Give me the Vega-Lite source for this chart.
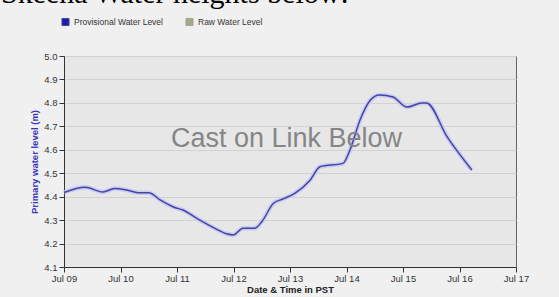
{
  "$schema": "https://vega.github.io/schema/vega-lite/v6.json",
  "width": 452,
  "height": 211,
  "autosize": "none",
  "padding": {"left": 64, "top": 56, "right": 43, "bottom": 30},
  "background": "#f0f0f0",
  "title": {
    "text": "Skeena Water heights below:",
    "font": "Liberation Serif",
    "fontSize": 30,
    "fontWeight": "normal",
    "color": "#000000",
    "anchor": "start",
    "frame": "group",
    "baseline": "alphabetic",
    "dx": -63,
    "dy": 21,
    "offset": 5
  },
  "config": {
    "view": {"fill": "#e7e7e7", "stroke": "#666666", "strokeWidth": 1},
    "font": "Liberation Sans",
    "axis": {
      "labelFont": "Liberation Sans",
      "titleFont": "Liberation Sans",
      "labelColor": "#333333",
      "domainColor": "#333333",
      "tickColor": "#333333",
      "tickSize": 5,
      "labelFontSize": 9.5,
      "titleFontSize": 9.5,
      "titleFontWeight": "bold"
    }
  },
  "datasets": {
    "level": [
      {"time": "2012-07-09T00:00:00Z", "level": 4.418, "series": "Provisional Water Level"},
      {"time": "2012-07-09T09:00:00Z", "level": 4.44, "series": "Provisional Water Level"},
      {"time": "2012-07-09T16:30:00Z", "level": 4.42, "series": "Provisional Water Level"},
      {"time": "2012-07-09T21:30:00Z", "level": 4.435, "series": "Provisional Water Level"},
      {"time": "2012-07-10T02:45:00Z", "level": 4.428, "series": "Provisional Water Level"},
      {"time": "2012-07-10T07:30:00Z", "level": 4.417, "series": "Provisional Water Level"},
      {"time": "2012-07-10T12:00:00Z", "level": 4.417, "series": "Provisional Water Level"},
      {"time": "2012-07-10T17:00:00Z", "level": 4.385, "series": "Provisional Water Level"},
      {"time": "2012-07-10T23:00:00Z", "level": 4.354, "series": "Provisional Water Level"},
      {"time": "2012-07-11T02:30:00Z", "level": 4.343, "series": "Provisional Water Level"},
      {"time": "2012-07-11T08:30:00Z", "level": 4.307, "series": "Provisional Water Level"},
      {"time": "2012-07-11T15:30:00Z", "level": 4.268, "series": "Provisional Water Level"},
      {"time": "2012-07-11T21:00:00Z", "level": 4.242, "series": "Provisional Water Level"},
      {"time": "2012-07-12T00:00:00Z", "level": 4.237, "series": "Provisional Water Level"},
      {"time": "2012-07-12T04:00:00Z", "level": 4.265, "series": "Provisional Water Level"},
      {"time": "2012-07-12T09:00:00Z", "level": 4.265, "series": "Provisional Water Level"},
      {"time": "2012-07-12T12:00:00Z", "level": 4.293, "series": "Provisional Water Level"},
      {"time": "2012-07-12T17:00:00Z", "level": 4.372, "series": "Provisional Water Level"},
      {"time": "2012-07-12T21:00:00Z", "level": 4.39, "series": "Provisional Water Level"},
      {"time": "2012-07-13T02:00:00Z", "level": 4.414, "series": "Provisional Water Level"},
      {"time": "2012-07-13T08:30:00Z", "level": 4.47, "series": "Provisional Water Level"},
      {"time": "2012-07-13T12:45:00Z", "level": 4.528, "series": "Provisional Water Level"},
      {"time": "2012-07-13T22:30:00Z", "level": 4.542, "series": "Provisional Water Level"},
      {"time": "2012-07-14T01:30:00Z", "level": 4.6, "series": "Provisional Water Level"},
      {"time": "2012-07-14T05:45:00Z", "level": 4.727, "series": "Provisional Water Level"},
      {"time": "2012-07-14T10:00:00Z", "level": 4.81, "series": "Provisional Water Level"},
      {"time": "2012-07-14T14:00:00Z", "level": 4.834, "series": "Provisional Water Level"},
      {"time": "2012-07-14T19:45:00Z", "level": 4.825, "series": "Provisional Water Level"},
      {"time": "2012-07-15T01:45:00Z", "level": 4.782, "series": "Provisional Water Level"},
      {"time": "2012-07-15T08:00:00Z", "level": 4.8, "series": "Provisional Water Level"},
      {"time": "2012-07-15T10:00:00Z", "level": 4.8, "series": "Provisional Water Level"},
      {"time": "2012-07-15T18:45:00Z", "level": 4.655, "series": "Provisional Water Level"},
      {"time": "2012-07-16T05:15:00Z", "level": 4.514, "series": "Provisional Water Level"}
    ],
    "note": [
      {"label": "Cast on Link Below", "time": "2012-07-12T22:30:00Z", "level": 4.612}
    ]
  },
  "encoding": {
    "x": {
      "field": "time",
      "type": "temporal",
      "scale": {"type": "utc", "domain": ["2012-07-09T00:00:00Z", "2012-07-17T00:00:00Z"], "nice": false},
      "axis": {
        "title": "Date & Time in PST",
        "titleColor": "#222222",
        "titlePadding": 2,
        "format": "%b %d",
        "tickCount": {"interval": "day", "step": 1},
        "grid": false,
        "labelPadding": 1,
        "labelFlush": false,
        "labelOverlap": false
      }
    },
    "y": {
      "field": "level",
      "type": "quantitative",
      "scale": {"domain": [4.1, 5.0], "nice": false, "zero": false},
      "axis": {
        "title": "Primary water level (m)",
        "titleColor": "#3535c0",
        "titlePadding": 4,
        "format": ".1f",
        "values": [4.1, 4.2, 4.3, 4.4, 4.5, 4.6, 4.7, 4.8, 4.9, 5.0],
        "grid": true,
        "gridColor": "#d2d2d2",
        "labelPadding": 2
      }
    }
  },
  "layer": [
    {
      "data": {"name": "level"},
      "mark": {"type": "line", "interpolate": "monotone", "color": "#c4c4f4", "strokeWidth": 4.5, "opacity": 0.8}
    },
    {
      "data": {"name": "level"},
      "mark": {"type": "line", "interpolate": "monotone", "strokeWidth": 1.5},
      "encoding": {
        "color": {
          "field": "series",
          "type": "nominal",
          "scale": {"domain": ["Provisional Water Level", "Raw Water Level"], "range": ["#4444a6", "#a6a68e"]},
          "legend": {
            "title": null,
            "orient": "none",
            "legendX": -3,
            "legendY": -39,
            "direction": "horizontal",
            "columns": 2,
            "columnPadding": 20,
            "symbolType": "square",
            "symbolSize": 50,
            "symbolStrokeWidth": 1,
            "labelFont": "Liberation Sans",
            "labelFontSize": 8.5,
            "labelColor": "#333333",
            "labelOffset": 4,
            "encode": {
              "symbols": {
                "update": {
                  "fill": {"signal": "datum.value === 'Provisional Water Level' ? '#1e1e9e' : '#a8a890'"},
                  "stroke": {"value": "#444444"},
                  "fillOpacity": {"value": 1}
                }
              }
            }
          }
        }
      }
    },
    {
      "data": {"name": "note"},
      "mark": {"type": "text", "font": "Liberation Sans", "fontSize": 27, "color": "#858585", "align": "center", "baseline": "alphabetic"},
      "encoding": {
        "text": {"field": "label"}
      }
    }
  ]
}
